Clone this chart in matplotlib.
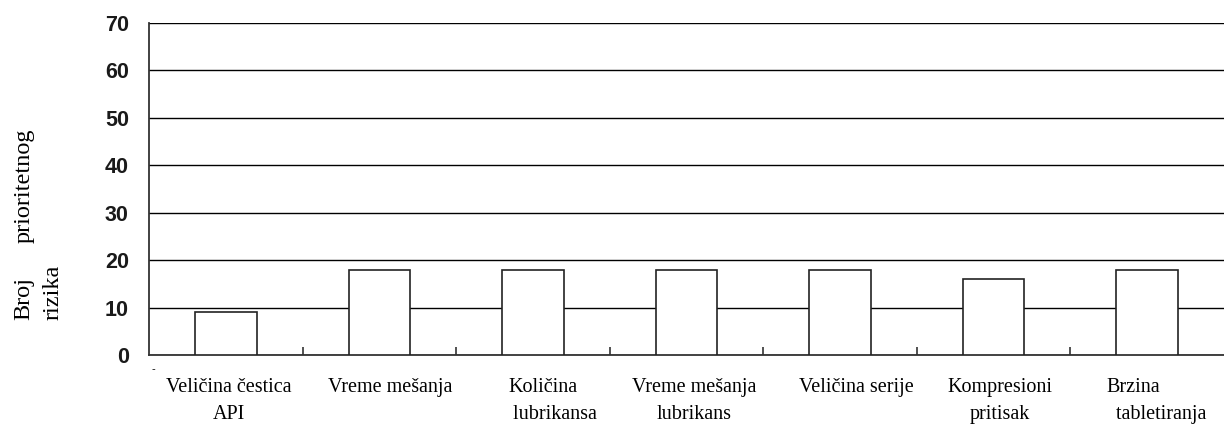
import matplotlib
matplotlib.use("Agg")
import matplotlib.pyplot as plt
import matplotlib.transforms as mtransforms
import numpy as np

categories = ["Veličina čestica\nAPI", "Vreme mešanja", "Količina\n lubrikansa",
              "Vreme mešanja\nlubrikans", "Veličina serije", "Kompresioni\npritisak",
              "Brzina\n  tabletiranja"]
values = [9, 18, 18, 18, 18, 16, 18]
yticks = [0, 10, 20, 30, 40, 50, 60, 70]

# per-label horizontal nudges (pixels) and alignment, mimicking the source layout
label_dx = [3, 11, 20, 8, 16, 6, 9]
label_align = ["center", "center", "left", "center", "center", "center", "left"]

fig = plt.figure(figsize=(12.24, 4.25), dpi=100)
ax = fig.add_axes([149/1224, 1-355/425, (1224-149)/1224, (355-23)/425])

x = np.arange(len(categories))
ax.set_axisbelow(True)
ax.yaxis.grid(True, color="black", linewidth=1.0)
ax.bar(x, values, width=0.4, color="white", edgecolor="#222222", linewidth=1.2, zorder=3)

ax.set_xlim(-0.5, len(categories) - 0.5)
ax.set_ylim(0, 70)
ax.set_yticks(yticks)
ax.set_yticklabels([str(v) for v in yticks], fontsize=15.5, fontweight="bold",
                   family="Liberation Sans", color="#1a1a1a")
ax.tick_params(axis="y", length=0, pad=14.5)

ax.set_xticks(x)
ax.set_xticklabels(categories, fontsize=14.5, family="Liberation Serif", linespacing=1.56)
ax.tick_params(axis="x", length=0, pad=16.5)
for lbl, dx, al in zip(ax.get_xticklabels(), label_dx, label_align):
    lbl.set_multialignment(al)
    lbl.set_transform(lbl.get_transform() +
                      mtransforms.ScaledTranslation(dx / 100, 0, fig.dpi_scale_trans))
ax.set_xticks(np.arange(0.5, len(categories) - 0.5, 1), minor=True)
ax.tick_params(axis="x", which="minor", direction="in", length=5.5, width=1.2, color="#333333")

for s in ["top", "right"]:
    ax.spines[s].set_visible(False)
for s in ["left", "bottom"]:
    ax.spines[s].set_color("#333333")
    ax.spines[s].set_linewidth(1.3)

fig.text(24/1224, 1-320/425, "Broj", rotation=90, ha="center", va="bottom",
         fontsize=17.5, family="Liberation Serif")
fig.text(24/1224, 1-243/425, "prioritetnog", rotation=90, ha="center", va="bottom",
         fontsize=17.5, family="Liberation Serif")
fig.text(53/1224, 1-320/425, "rizika", rotation=90, ha="center", va="bottom",
         fontsize=17.5, family="Liberation Serif")
fig.text(153/1224, 1-369/425, "-", ha="center", va="center", fontsize=8, family="Liberation Sans")

fig.savefig("out.png", dpi=100)
